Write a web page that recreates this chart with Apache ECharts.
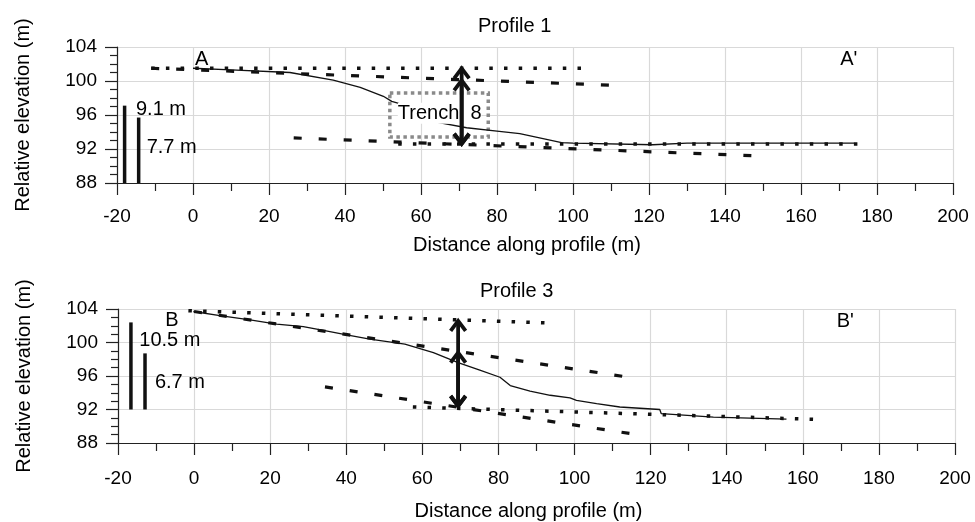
<!DOCTYPE html>
<html><head><meta charset="utf-8">
<script src="https://cdn.jsdelivr.net/npm/echarts@6/dist/echarts.min.js"></script>
<style>html,body{margin:0;padding:0;background:#fff}#c{width:975px;height:522px}</style>
</head><body><div id="c"></div>
<script>
// ---- Profile 1 data ----
const topo1 = [[0,101.5],[10,101.3],[25.5,101.0],[36.9,100.1],[44,99.25],[50.1,98.2],[52.3,97.6],[53.9,97.4],[63.7,95.2],[72,94.5],[80,94.1],[86,93.8],[97,92.75],[100,92.7],[121,92.5],[130,92.7],[174,92.7]];
const upperDot1 = [[-11,101.5],[103.6,101.5]];
const upperDash1 = [[-11,101.5],[110.6,99.5]];
const lowerDot1 = [[54,92.6],[175.5,92.6]];
const lowerDash1 = [[26.5,93.3],[148,91.2]];
const arrows1 = [[70.7,101.6,92.5],[70.7,100.2,92.5]];
const bars1 = [[-18,88,97.1],[-14.3,88,95.7]];
const labels1 = [[0.5,102.5,'A'],[170.3,102.5,"A'"],[-15,96.6,'9.1 m'],[-12.2,92.2,'7.7 m']];
const trenchBox = [51.8,98.6,77.7,93.4];
const trenchLabel = [53.9,96.2,'Trench  8'];
// ---- Profile 3 data ----
const topo3 = [[-0.2,103.7],[6.8,103.2],[14.7,102.7],[21.7,102.2],[28.7,101.9],[34,101.45],[40.1,100.9],[46.2,100.4],[55.4,99.8],[62.9,98.8],[69.4,97.6],[75.1,96.7],[80.4,95.85],[83.1,94.86],[88.3,94.2],[93.6,93.7],[98.8,93.4],[100.5,93.1],[105.8,92.7],[111.9,92.3],[122.4,92.0],[122.8,91.5],[136.5,91.1],[155.7,90.85]];
const upperDot3 = [[-1.5,103.8],[95,102.3]];
const upperDash3 = [[0,103.7],[113.5,95.9]];
const lowerDot3 = [[57.5,92.3],[165,90.8]];
const lowerDash3 = [[34.4,94.7],[115,89.1]];
const arrows3 = [[69.4,102.7,92.3],[69.4,98.9,92.3]];
const bars3 = [[-16.6,92,102.4],[-12.9,92,98.7]];
const labels3 = [[-7.6,102.6,'B'],[168.9,102.5,"B'"],[-14.4,100.3,'10.5 m'],[-10.3,95.2,'6.7 m']];
// ---- axes ----
const xMin=-20, xMax=200, xStep=20;
const yMin=88, yMax=104, yStep=4;
const titles=['Profile 1','Profile 3'];
const xName='Distance along profile (m)';
const yName='Relative elevation (m)';

const FONT='"Liberation Sans", Arial, sans-serif';
const INK='#000';
const dotType=[3.5,11.2], dashType=[8,17];

function arrowRender(params, api){
  const x=api.value(0), p1=api.coord([x,api.value(1)]), p2=api.coord([x,api.value(2)]);
  const s={stroke:'#111',lineWidth:3.8,fill:null,lineJoin:'miter'};
  return {type:'group',children:[
    {type:'line',shape:{x1:p1[0],y1:p1[1]+1,x2:p2[0],y2:p2[1]-1},style:s},
    {type:'polyline',shape:{points:[[p1[0]-7.5,p1[1]+11],[p1[0],p1[1]+1],[p1[0]+7.5,p1[1]+11]]},style:s},
    {type:'polyline',shape:{points:[[p2[0]-7.5,p2[1]-11],[p2[0],p2[1]-1],[p2[0]+7.5,p2[1]-11]]},style:s}
  ]};
}
function barRender(params, api){
  const x=api.value(0), p1=api.coord([x,api.value(1)]), p2=api.coord([x,api.value(2)]);
  return {type:'line',shape:{x1:p1[0],y1:p1[1],x2:p2[0],y2:p2[1]},style:{stroke:'#111',lineWidth:3.5}};
}
function lineS(g,data,type,width,z){
  return {type:'line',xAxisIndex:g,yAxisIndex:g,data:data,showSymbol:false,symbol:'none',silent:true,z:z||2,
    lineStyle:{color:'#111',width:width,type:type,cap:'butt',opacity:1}};
}
function labelS(g,list){
  return {type:'scatter',xAxisIndex:g,yAxisIndex:g,symbolSize:0,silent:true,z:4,itemStyle:{opacity:1},
    data:list.map(l=>({value:[l[0],l[1]],name:l[2]})),
    label:{show:true,position:'inside',align:'left',verticalAlign:'middle',formatter:'{b}',opacity:1,
      color:INK,fontSize:20,fontFamily:FONT}};
}
function xAx(g,margin,gap){
  return {type:'value',gridIndex:g,min:xMin,max:xMax,interval:xStep,name:xName,nameLocation:'middle',nameGap:gap,
    nameTextStyle:{fontSize:20,fontFamily:FONT,color:INK,padding:[0,16,0,0]},
    axisLine:{show:true,onZero:false,lineStyle:{color:'#222',width:1.2}},
    axisTick:{show:true,length:12,lineStyle:{color:'#222',width:1.2}},
    minorTick:{show:true,splitNumber:2,length:8,lineStyle:{color:'#222',width:1.2}},
    splitLine:{show:true,lineStyle:{color:'#d9d9d9',width:1.2}},
    axisLabel:{fontSize:19,fontFamily:FONT,color:INK,margin:margin}};
}
function yAx(g){
  return {type:'value',gridIndex:g,min:yMin,max:yMax,interval:yStep,name:yName,nameLocation:'middle',nameGap:84,
    nameTextStyle:{fontSize:20,fontFamily:FONT,color:INK},
    axisLine:{show:true,onZero:false,lineStyle:{color:'#222',width:1.2}},
    axisTick:{show:true,length:12,lineStyle:{color:'#222',width:1.2}},
    minorTick:{show:true,splitNumber:4,length:7,lineStyle:{color:'#222',width:1.2}},
    splitLine:{show:true,lineStyle:{color:'#d9d9d9',width:1.2}},
    axisLabel:{fontSize:19,fontFamily:FONT,color:INK,margin:20}};
}
function groupSeries(g,topo,uDot,uDash,lDot,lDash,arrows,bars,labels){
  return [
    lineS(g,topo,'solid',1.3,2),
    lineS(g,uDot,dotType,3.5,2),
    lineS(g,uDash,dashType,3.2,2),
    lineS(g,lDot,dotType,3.5,2),
    lineS(g,lDash,dashType,3.2,2),
    {type:'custom',xAxisIndex:g,yAxisIndex:g,renderItem:barRender,data:bars,silent:true,z:3,encode:{x:0,y:[1,2]}},
    labelS(g,labels),
    {type:'custom',xAxisIndex:g,yAxisIndex:g,renderItem:arrowRender,data:arrows,silent:true,z:6,encode:{x:0,y:[1,2]}}
  ];
}
const series = groupSeries(0,topo1,upperDot1,upperDash1,lowerDot1,lowerDash1,arrows1,bars1,labels1)
  .concat(groupSeries(1,topo3,upperDot3,upperDash3,lowerDot3,lowerDash3,arrows3,bars3,labels3));
// trench box + label
series.push({type:'line',xAxisIndex:0,yAxisIndex:0,data:[],z:3,silent:true,
  markArea:{silent:true,itemStyle:{color:'rgba(0,0,0,0)',borderColor:'#8a8a8a',borderWidth:3.5,borderType:[3.5,3.5],opacity:1},
    data:[[{coord:[trenchBox[0],trenchBox[1]]},{coord:[trenchBox[2],trenchBox[3]]}]]}});
series.push({type:'scatter',xAxisIndex:0,yAxisIndex:0,symbolSize:0,silent:true,z:5,itemStyle:{opacity:1},
  data:[{value:[trenchLabel[0],trenchLabel[1]],name:trenchLabel[2]}],
  label:{show:true,position:'inside',align:'left',verticalAlign:'middle',formatter:'{b}',color:INK,fontSize:20,opacity:1,
    fontFamily:FONT,backgroundColor:'#fff',padding:[1,0,0,0]}});

const chart=echarts.init(document.getElementById('c'),null,{renderer:'canvas'});
chart.setOption({
  animation:false,
  backgroundColor:'#fff',
  title:[
    {text:titles[0],left:478,top:16,padding:0,textStyle:{fontSize:20,fontWeight:'normal',fontFamily:FONT,color:INK,lineHeight:20}},
    {text:titles[1],left:480,top:281,padding:0,textStyle:{fontSize:20,fontWeight:'normal',fontFamily:FONT,color:INK,lineHeight:20}}
  ],
  grid:[
    {left:117,width:836,top:47,height:136},
    {left:118,width:837,top:309,height:136}
  ],
  xAxis:[xAx(0,24,52),xAx(1,26,58)],
  yAxis:[yAx(0),yAx(1)],
  series:series
});
</script></body></html>
